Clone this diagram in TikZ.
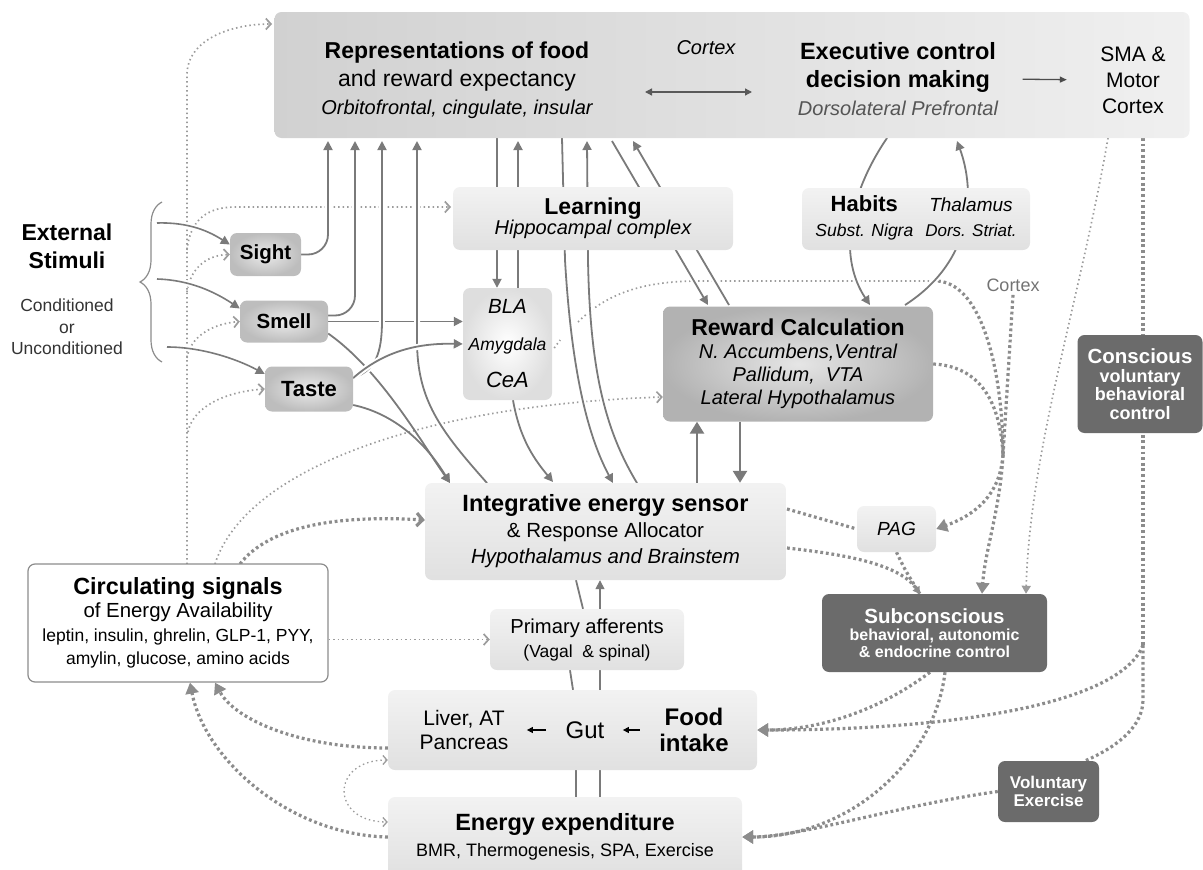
\documentclass[tikz,border=0pt]{standalone}
\usepackage{fontspec}
\setmainfont{Liberation Sans}
\usetikzlibrary{arrows.meta,decorations.pathreplacing}

\definecolor{lnc}{HTML}{7A7A7A}
\definecolor{dotc}{HTML}{9C9C9C}
\definecolor{hdc}{HTML}{8C8C8C}
\definecolor{darkfill}{HTML}{6B6B6B}
\definecolor{txtgray}{HTML}{555555}

\newcommand{\fz}[2]{\fontsize{#1}{#2}\selectfont}

\pgfdeclarelayer{bg}
\pgfsetlayers{bg,main}

\tikzset{
  box/.style={rounded corners=7pt, align=center, inner sep=0pt},
  litebox/.style={box, top color=black!5, bottom color=black!12},
  sensebox/.style={box, inner color=black!8, outer color=black!26},
  darkbox/.style={box, fill=darkfill, text=white},
  flow/.style={lnc, line width=1.8pt, -{Triangle[length=9pt,width=9pt]}},
  bigflow/.style={lnc, line width=2.6pt, -{Triangle[length=12pt,width=14pt]}},
  link/.style={lnc, line width=1.8pt},
  halo/.style={preaction={draw=white, line width=6pt, -}},
  sig/.style={dotc, line width=1.7pt, dash pattern=on 1.5pt off 3pt, -{Straight Barb[length=5pt,width=11pt]}},
  sigline/.style={dotc, line width=1.7pt, dash pattern=on 1.5pt off 3pt},
  ctrl/.style={hdc, line width=3.2pt, dash pattern=on 2.8pt off 2.8pt, -{Triangle[length=11pt,width=13pt]}},
  ctrlo/.style={hdc, line width=3.2pt, dash pattern=on 2.8pt off 2.8pt, -{Straight Barb[length=6pt,width=13pt]}},
  ctrlline/.style={hdc, line width=3.2pt, dash pattern=on 2.8pt off 2.8pt},
}

\begin{document}
\begin{tikzpicture}[x=1pt,y=-1pt]
\useasboundingbox (0,0) rectangle (1203,870);

% cortex
\node[box, minimum width=915, minimum height=126, left color=black!18, right color=black!6] (ctx) at (732,75) {};
\node[align=center, font=\fz{23}{28}] (repr) at (457,80) {{\bfseries Representations of food}\\and reward expectancy\\{\itshape\fz{20}{28}Orbitofrontal, cingulate, insular}};
\node[font=\itshape\fz{20}{24}] (ctxlbl) at (706,48) {Cortex};
\node[align=center, font=\bfseries\fz{23.5}{28}] (exec) at (898,79) {Executive control\\decision making\\{\mdseries\itshape\color{txtgray}\fz{20}{28}Dorsolateral Prefrontal}};
\node[align=center, font=\fz{21}{26}] (sma) at (1133,80) {SMA \&\\Motor\\Cortex};
\coordinate (dbl1) at (645,92);
\coordinate (dbl2) at (752,92);

% middle boxes
\node[litebox, minimum width=280, minimum height=63] (learn) at (593,218.5) {{\bfseries\fz{23}{27}Learning}\\{\itshape\fz{20}{27}Hippocampal complex}};
\node[litebox, minimum width=228, minimum height=62] (habit) at (916,219) {\fz{19}{25}\begin{tabular}{@{}c@{\hspace{12pt}}c@{}}{\bfseries\fz{22}{25}Habits} & {\itshape Thalamus}\\ {\itshape\fz{17.5}{22}Subst. Nigra} & {\itshape\fz{17}{22}Dors. Striat.}\end{tabular}};
\node[sensebox, minimum width=71, minimum height=43, font=\bfseries\fz{20.5}{24}] (sight) at (265.5,254.5) {Sight};
\node[sensebox, minimum width=88, minimum height=42, font=\bfseries\fz{20.5}{24}] (smell) at (284,321.5) {Smell};
\node[sensebox, minimum width=88, minimum height=45, font=\bfseries\fz{22}{26}] (taste) at (309,389) {Taste};
\node[align=center, font=\bfseries\fz{23}{28}] (ext) at (67,246) {External\\Stimuli};
\node[align=center, font=\fz{17.5}{21.5}, text=black!80] (cond) at (67,327) {Conditioned\\or\\Unconditioned};
\node[box, minimum width=89, minimum height=112, inner color=white, outer color=black!13, font=\itshape\fz{20}{37}] (amyg) at (507.5,344) {{\fz{20.5}{37}BLA}\\{\fz{17.5}{37}Amygdala}\\{\fz{22}{37}CeA}};
\node[box, minimum width=270, minimum height=115, inner color=black!10, outer color=black!30, font=\itshape\fz{20}{23}] (reward) at (798,364) {{\upshape\bfseries\fz{23}{23}Reward Calculation}\\N. Accumbens,Ventral\\Pallidum,\ \ VTA\\Lateral Hypothalamus};
\node[font=\fz{18}{20}, text=black!55] (ctxsmall) at (1013,285) {Cortex};
\node[darkbox, minimum width=125, minimum height=98, font=\bfseries\fz{18}{18.5}] (consc) at (1140,384) {{\fz{20.5}{20}Conscious}\\voluntary\\behavioral\\control};

% lower boxes
\node[litebox, minimum width=361, minimum height=97, font=\fz{20.5}{26}] (integ) at (605.5,531.5) {{\bfseries\fz{23.5}{26}Integrative energy sensor}\\\& Response Allocator\\{\itshape Hypothalamus and Brainstem}};
\node[litebox, minimum width=79, minimum height=46, font=\itshape\fz{19}{22}] (pag) at (896.5,529) {PAG};
\node[darkbox, minimum width=225, minimum height=78, font=\bfseries\fz{16}{16.5}] (subcon) at (934.5,633) {{\fz{20.5}{20}Subconscious}\\[1pt]behavioral, autonomic\\\& endocrine control};
\node[box, draw=black!45, line width=1.2pt, fill=white, minimum width=300, minimum height=118, font=\fz{17.5}{23.5}] (circ) at (178,623) {{\bfseries\fz{23.4}{23}Circulating signals}\\{\fz{20.4}{23}of Energy Availability}\\leptin, insulin, ghrelin, GLP-1, PYY,\\amylin, glucose, amino acids};
\node[litebox, minimum width=194, minimum height=61, font=\fz{17.5}{24}] (aff) at (587,639.5) {{\fz{20.2}{24}Primary afferents}\\(Vagal\ \ \& spinal)};
\node[litebox, minimum width=369, minimum height=80] (gutbox) at (572.5,730) {};
\node[align=center, font=\fz{21}{24}] (liver) at (464,730) {Liver, AT\\Pancreas};
\node[font=\fz{24}{26}] (gut) at (585,730) {Gut};
\node[align=center, font=\bfseries\fz{24}{26}] (food) at (694,730) {Food\\intake};
\node[litebox, minimum width=354, minimum height=80, font=\fz{18}{26}] (energy) at (565,837) {{\bfseries\fz{23.5}{26}Energy expenditure}\\BMR, Thermogenesis, SPA, Exercise};
\node[darkbox, minimum width=101, minimum height=61, font=\bfseries\fz{17}{18}] (volex) at (1048.5,791.5) {Voluntary\\Exercise};

% arrows inside boxes
\draw[black!65, line width=1.3pt, {Triangle[length=7pt,width=7pt]}-{Triangle[length=7pt,width=7pt]}] (dbl1) -- (dbl2);
\draw[black!70, line width=1.3pt, -{Triangle[length=7pt,width=6pt]}, shorten <=21pt, shorten >=30pt] (exec.east) -- (sma.west);
\draw[black, line width=1.3pt, -{Triangle[length=6pt,width=6pt]}, shorten >=15pt, shorten <=16pt] (gut.west) -- (liver.east);
\draw[black, line width=1.3pt, -{Triangle[length=6pt,width=6pt]}, shorten >=15pt, shorten <=16pt] (food.west) -- (gut.east);

% end points on the cortex box
\coordinate (c0) at (272,24);
\coordinate (c1) at (328,141);
\coordinate (c2) at (355,141);
\coordinate (c3) at (382,141);
\coordinate (c4) at (417,141);
\coordinate (c5) at (497,138);
\coordinate (c6) at (518,141);
\coordinate (c7) at (562,138);
\coordinate (c8) at (587,141);
\coordinate (c9) at (612,141);
\coordinate (c10) at (633,141);
\coordinate (c11) at (887,138);
\coordinate (c12) at (957,141);
\coordinate (c13) at (1108,138);
\coordinate (c14) at (1143,138);

\begin{pgfonlayer}{bg}
% circulating signals (fine dots)
\coordinate (v0) at (187,564);
\coordinate (v1) at (187,250);
\coordinate (v2) at (187,292);
\coordinate (v3) at (187,358);
\coordinate (v4) at (188,432);
\coordinate (lrn1) at (451,207);
\draw[sig] (v0) -- (187,75) .. controls (187,40) and (230,24) .. (c0);
\draw[sig] (v1) .. controls (190,222) and (205,207) .. (235,207) -- (lrn1);
\draw[sig] (v2) .. controls (190,270) and (205,255) .. (sight.west);
\draw[sig] (v3) .. controls (190,338) and (210,324) .. (smell.west);
\draw[sig] (v4) .. controls (192,410) and (220,392) .. (taste.west);
\coordinate (cr1) at (215,564);
\coordinate (cr2) at (240,564);
\draw[sig] (cr1) .. controls (245,470) and (420,405) .. (reward.west |- 0,397);
\draw[ctrlo] (cr2) .. controls (270,525) and (340,515) .. (integ.west |- 0,520);
\draw[sig] (circ.east |- aff.west) -- (aff.west);
% amygdala to subconscious
\coordinate (turn) at (938,281);
\coordinate (cv) at (1003,455);
\draw[sigline] (amyg.east) ++(2,4) -- ++(6,-8);
\draw[sigline] (578,322) .. controls (610,290) and (650,281) .. (700,281) -- (turn);
\draw[ctrlline] (turn) .. controls (985,285) and (1003,380) .. (cv);
\draw[ctrlline] (reward.east) .. controls (975,366) and (1000,395) .. (cv);
\draw[ctrlline] (ctxsmall.south) -- (cv);
\draw[ctrl] (cv) .. controls (1000,510) and (985,550) .. (subcon.north -| 982,0);
\draw[ctrl] (cv) .. controls (1000,495) and (975,515) .. (pag.east);
\draw[sig, -{Triangle[length=8pt,width=9pt]}] (c13) .. controls (1080,300) and (1030,450) .. (subcon.north -| 1026,0);
% integrative to PAG and subconscious
\coordinate (ie1) at (787,509);
\coordinate (ie2) at (787,548);
\coordinate (sc0) at (920,594);
\draw[ctrlline] (ie1) -- (pag.west);
\draw[ctrl, -{Triangle[length=7pt,width=8pt]}] (ie2) .. controls (850,555) and (900,565) .. (sc0);
\draw[ctrlline] (pag.south) .. controls (905,570) .. (sc0);
% conscious control
\coordinate (vr) at (1143,645);
\draw[ctrlline] (c14) -- (vr);
\draw[ctrl] (vr) .. controls (1120,705) and (950,730) .. (gutbox.east);
\draw[ctrlline] (vr) -- (1143,700) .. controls (1143,730) and (1110,750) .. ([xshift=-14pt]volex.north east);
% subconscious control
\draw[ctrl] (subcon.south -| 930,0) .. controls (880,710) and (820,730) .. (gutbox.east);
\draw[ctrl] (subcon.south -| 945,0) .. controls (935,760) and (850,837) .. (energy.east);
\draw[ctrl] (volex.west) .. controls (900,805) and (800,837) .. (energy.east);
% periphery back to circulating signals
\draw[ctrl] ([yshift=-18pt]gutbox.west) .. controls (300,748) and (235,720) .. (circ.south -| 215,0);
\draw[ctrl] (energy.west) .. controls (290,835) and (205,760) .. (circ.south -| 190,0);
\draw[sig, {Straight Barb[length=4pt,width=9pt]}-{Straight Barb[length=4pt,width=9pt]}, line width=1.3pt] ([yshift=-30pt]gutbox.west) .. controls (330,760) and (330,822) .. ([yshift=15pt]energy.west);

% external stimuli
\coordinate (e1) at (157,223);
\coordinate (e2) at (157,279);
\coordinate (e3) at (167,347);
\draw[flow, halo, line width=1.6pt] (e1) .. controls (190,222) and (210,232) .. ([yshift=10pt]sight.west);
\draw[flow, halo, line width=1.6pt] (e2) .. controls (190,280) and (215,292) .. ([yshift=13pt]smell.west);
\draw[flow, halo, line width=1.6pt] (e3) .. controls (200,347) and (235,358) .. ([yshift=15pt]taste.west);

% senses
\draw[flow] (smell.east) -- (amyg.west |- smell.east);
\coordinate (ia) at (450,483);
\draw[flow] ([yshift=-12pt]smell.east) .. controls (380,370) and (420,440) .. (ia);
\draw[flow] ([yshift=-16pt]taste.east) .. controls (400,415) and (430,450) .. (ia);
\draw[flow, halo, rounded corners=20pt] (sight.east) -| (c1);
\draw[flow, halo, rounded corners=20pt] ([yshift=6pt]smell.east) -| (c2);
\draw[flow, halo] ([yshift=11pt]taste.east) .. controls (375,370) and (382,355) .. (382,320) -- (c3);
\coordinate (ib1) at (487,483);
\draw[flow, halo] (ib1) .. controls (440,430) and (417,400) .. (417,340) -- (c4);
\draw[flow, halo] ([yshift=11pt]taste.east) .. controls (385,350) and (420,343) .. (amyg.west);

% cortex, learning, amygdala
\draw[flow] (c5) -- (amyg.north -| c5);
\draw[flow] (amyg.north -| c6) -- (c6);
\coordinate (ib2) at (613,483);
\coordinate (ib3) at (637,483);
\coordinate (ib4) at (553,482);
\draw[flow, halo] (c7) -- (565,260) .. controls (572,380) and (590,440) .. (ib2);
\draw[flow, halo] (ib3) .. controls (605,430) and (590,370) .. (588,260) -- (c8);
\draw[flow, halo] (amyg.south -| 513,0) .. controls (520,440) and (535,460) .. (ib4);

% reward
\coordinate (rw1) at (708,305);
\coordinate (rw2) at (729,305);
\coordinate (rw3) at (870,305);
\coordinate (rw4) at (905,305);
\draw[flow, halo] (c9) -- (rw1);
\draw[flow, halo] (rw2) -- (c10);
\draw[flow, halo] (c11) .. controls (845,200) and (840,260) .. (rw3);
\draw[flow, halo] (rw4) .. controls (975,260) and (975,190) .. (c12);
\coordinate (xu) at (697,0);
\coordinate (xd) at (740,0);
\draw[bigflow] (integ.north -| xu) -- (reward.south -| xu);
\draw[bigflow] (reward.south -| xd) -- (integ.north -| xd);

% afferents, gut, expenditure
\coordinate (xa) at (576,0);
\coordinate (xb) at (600,0);
\draw[link] (integ.south -| xa) -- ([xshift=7pt]aff.north -| xa);
\draw[flow, line width=1.5pt] (aff.north -| xb) -- (integ.south -| xb);
\draw[link] ([xshift=-6pt]aff.south -| xa) -- ([xshift=-3pt]gutbox.north -| xa);
\draw[link] (aff.south -| xb) -- (gutbox.north -| xb);
\draw[link, line width=1.5pt] (gutbox.south -| xa) -- (energy.north -| xa);
\draw[link, line width=2.4pt] (gutbox.south -| xb) -- (energy.north -| xb);
\end{pgfonlayer}

% brace
\coordinate (brtop) at (162,202);
\coordinate (brbot) at (162,362);
\draw[black!45, line width=1.2pt, decorate, decoration={brace, amplitude=22pt}] (brbot) -- (brtop);
\end{tikzpicture}
\end{document}
